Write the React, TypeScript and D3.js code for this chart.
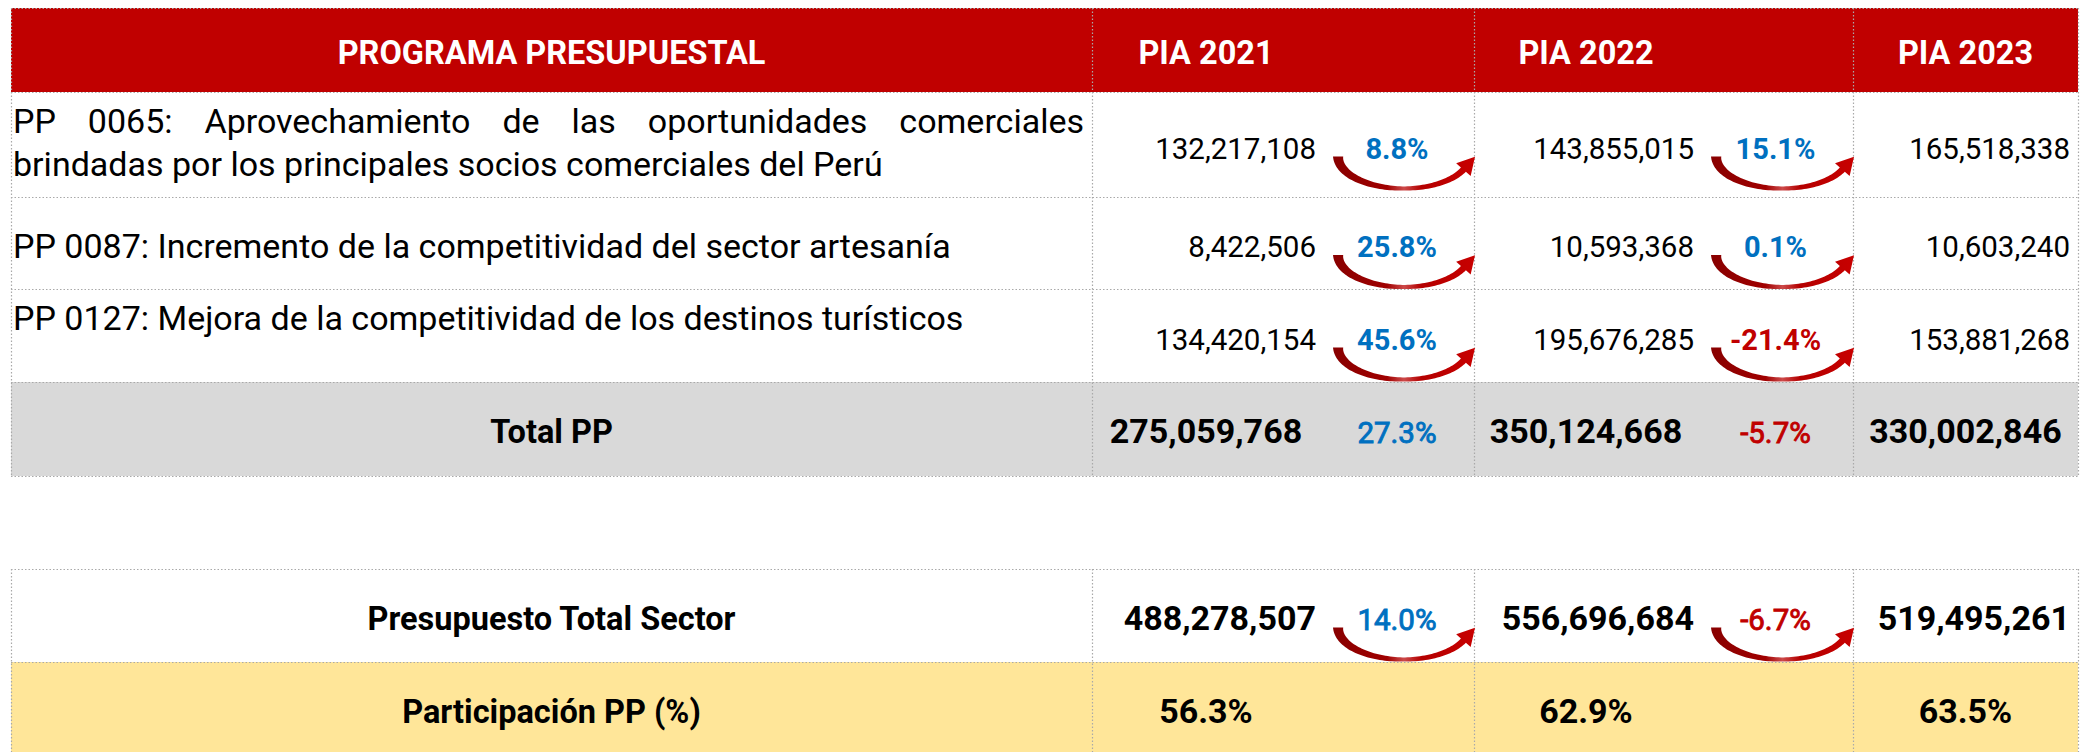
import React, { useEffect, useRef } from "react";
import * as d3 from "d3";

// ---------- data ----------
const headerLabel = "PROGRAMA PRESUPUESTAL";
const yearLabels = ["PIA 2021", "PIA 2022", "PIA 2023"];
const programs = [
  "PP 0065: Aprovechamiento de las oportunidades comerciales brindadas por los principales socios comerciales del Perú",
  "PP 0087: Incremento de la competitividad del sector artesanía",
  "PP 0127: Mejora de la competitividad de los destinos turísticos",
];
const pia2021 = [132217108, 8422506, 134420154];
const pia2022 = [143855015, 10593368, 195676285];
const pia2023 = [165518338, 10603240, 153881268];
const sectorTotal = [488278507, 556696684, 519495261];
const totalLabel = "Total PP";
const sectorLabel = "Presupuesto Total Sector";
const shareLabel = "Participación PP (%)";

// ---------- layout ----------
const W = 2092;
const H = 752;
const colEdges = [11, 1092, 1474, 1853, 2078];
const subSplit = [1320, 1698];
const topRowEdges = [8, 92, 197, 289, 382, 476];
const bottomRowEdges = [569, 662, 752];
const labelVAlign = ["top", "middle", "top"];
const FONT = "Roboto, 'Noto Sans', 'DejaVu Sans', sans-serif";

const RED = "#c00000";
const BLUE = "#0070c0";

export default function App() {
  const ref = useRef<SVGSVGElement>(null);

  useEffect(() => {
    document.body.style.margin = "0";
    const svg = d3.select(ref.current);
    svg.selectAll("*").remove();

    const locale = d3.formatLocale({
      decimal: ".",
      thousands: ",",
      grouping: [3],
      currency: ["$", ""],
      minus: "-",
    });
    const fmtNum = locale.format(",");
    const fmtPct = locale.format(".1%");

    const byYear = [pia2021, pia2022, pia2023];
    const totals = byYear.map((arr) => d3.sum(arr));
    const shares = totals.map((t, i) => t / sectorTotal[i]);
    const growth = (vals: number[]) => [vals[1] / vals[0] - 1, vals[2] / vals[1] - 1];

    // scales
    const rowKeysTop = ["header", "p0", "p1", "p2", "total"];
    const rowKeysBottom = ["sector", "share"];
    const rowTop = d3
      .scaleOrdinal<string, number>()
      .domain([...rowKeysTop, ...rowKeysBottom])
      .range([...topRowEdges.slice(0, 5), ...bottomRowEdges.slice(0, 2)]);
    const rowBottom = d3
      .scaleOrdinal<string, number>()
      .domain([...rowKeysTop, ...rowKeysBottom])
      .range([...topRowEdges.slice(1), ...bottomRowEdges.slice(1)]);
    const rowMid = (k: string) => (rowTop(k) + rowBottom(k)) / 2;
    const baseline = (k: string) => rowMid(k) + 14;

    const colLeft = d3.scaleOrdinal<string, number>().domain(yearLabels).range(colEdges.slice(1, 4));
    const colRight = d3.scaleOrdinal<string, number>().domain(yearLabels).range(colEdges.slice(2, 5));
    const numRight = (y: string, i: number) => (i < 2 ? subSplit[i] : colRight(y));
    const numCenter = (y: string, i: number) => (colLeft(y) + numRight(y, i)) / 2;
    const pctCenter = (y: string, i: number) => (subSplit[i] + colRight(y)) / 2;

    const x0 = colEdges[0];
    const x1 = colEdges[colEdges.length - 1];

    // defs
    const defs = svg.append("defs");
    const grad = defs
      .append("linearGradient")
      .attr("id", "arrowGrad")
      .attr("x1", "0")
      .attr("x2", "1")
      .attr("y1", "0")
      .attr("y2", "0");
    [
      [0, "#880000"],
      [0.38, "#a00000"],
      [0.5, "#cc4a4a"],
      [0.62, "#b40000"],
      [1, "#c80000"],
    ].forEach(([o, c]) => grad.append("stop").attr("offset", o as number).attr("stop-color", c as string));

    // fills
    const fillRow = (k: string, color: string) =>
      svg
        .append("rect")
        .attr("x", x0)
        .attr("y", rowTop(k))
        .attr("width", x1 - x0)
        .attr("height", rowBottom(k) - rowTop(k))
        .attr("fill", color);
    fillRow("header", RED);
    fillRow("total", "#d9d9d9");
    fillRow("share", "#ffe699");

    // grid
    const grid = svg
      .append("g")
      .attr("stroke", "#a9a9a9")
      .attr("stroke-width", 1.2)
      .attr("stroke-dasharray", "1.5 2")
      .attr("fill", "none");
    const hLines = [...topRowEdges, ...bottomRowEdges.slice(0, 2)];
    hLines.forEach((y) => {
      grid.append("line").attr("x1", x0).attr("x2", x1).attr("y1", y + 0.5).attr("y2", y + 0.5);
    });
    colEdges.forEach((x) => {
      grid
        .append("line")
        .attr("x1", x + 0.5)
        .attr("x2", x + 0.5)
        .attr("y1", topRowEdges[0])
        .attr("y2", topRowEdges[topRowEdges.length - 1]);
      grid
        .append("line")
        .attr("x1", x + 0.5)
        .attr("x2", x + 0.5)
        .attr("y1", bottomRowEdges[0])
        .attr("y2", bottomRowEdges[bottomRowEdges.length - 1]);
    });

    const text = (
      x: number,
      y: number,
      s: string,
      o: { size: number; weight?: number; fill?: string; anchor?: string; stroke?: number }
    ) => {
      const t = svg
        .append("text")
        .attr("x", x)
        .attr("y", y)
        .attr("font-family", FONT)
        .attr("font-size", o.size)
        .attr("font-weight", o.weight ?? 400)
        .attr("fill", o.fill ?? "#000")
        .attr("text-anchor", o.anchor ?? "start")
        .text(s);
      if (o.stroke) t.attr("stroke", o.fill ?? "#000").attr("stroke-width", o.stroke);
      return t;
    };

    // header
    const labelCenter = (colEdges[0] + colEdges[1]) / 2;
    text(labelCenter, baseline("header"), headerLabel, { size: 32.5, weight: 700, fill: "#fff", anchor: "middle" });
    yearLabels.forEach((y, i) =>
      text(numCenter(y, i), baseline("header"), y, { size: 32.5, weight: 700, fill: "#fff", anchor: "middle" })
    );

    // curved growth arrow: half-ellipse centerline with tapering width + head
    const arrow = (ax0: number, ax1: number, ay0: number, depth: number) => {
      const tailW = 10;
      const midW = 4;
      const endW = 6.5;
      const rx = 64;
      const ry = depth - midW / 2;
      const thetaEnd = 0.42;
      const N = 70;
      const left: [number, number][] = [];
      const right: [number, number][] = [];
      const P = (th: number): [number, number] => [rx * Math.cos(th), ry * Math.sin(th)];
      const T = (th: number): [number, number] => {
        const tx = rx * Math.sin(th);
        const ty = -ry * Math.cos(th);
        const l = Math.hypot(tx, ty) || 1;
        return [tx / l, ty / l];
      };
      for (let s = 0; s <= N; s++) {
        const f = s / N;
        const th = Math.PI + (thetaEnd - Math.PI) * f;
        const [px, py] = P(th);
        const [tx, ty] = T(th);
        const nx = -ty;
        const ny = tx;
        const fm = (Math.PI - th) / (Math.PI / 2);
        const w =
          th > Math.PI / 2
            ? tailW + (midW - tailW) * Math.pow(Math.min(1, fm), 0.85)
            : midW + (endW - midW) * ((Math.PI / 2 - th) / (Math.PI / 2 - thetaEnd));
        left.push([px + (nx * w) / 2, py + (ny * w) / 2]);
        right.push([px - (nx * w) / 2, py - (ny * w) / 2]);
      }
      const end = P(thetaEnd);
      const [ux, uy] = T(thetaEnd);
      const nx = -uy;
      const ny = ux;
      const headLen = 17;
      const headHalf = 9.5;
      const tip: [number, number] = [end[0] + ux * headLen, end[1] + uy * headLen];
      const pts: [number, number][] = [
        ...left,
        [end[0] + nx * headHalf, end[1] + ny * headHalf],
        tip,
        [end[0] - nx * headHalf, end[1] - ny * headHalf],
        ...right.reverse(),
      ];
      const xs = d3.extent(pts, (p) => p[0]) as [number, number];
      const sx = d3.scaleLinear().domain([xs[0], tip[0]]).range([ax0, ax1]);
      const line = d3
        .line<[number, number]>()
        .x((p) => sx(p[0]))
        .y((p) => p[1] + ay0)
        .curve(d3.curveLinearClosed);
      svg.append("path").attr("d", line(pts) as string).attr("fill", "url(#arrowGrad)");
    };

    const pctText = (k: string, vals: number[], size: number, weight: number, stroke?: number) => {
      const g = growth(vals);
      g.forEach((v, i) => {
        const y = yearLabels[i];
        text(pctCenter(y, i), baseline(k), fmtPct(v), {
          size,
          weight,
          fill: v < 0 ? RED : BLUE,
          anchor: "middle",
          stroke,
        });
      });
    };
    const arrowsFor = (k: string) => {
      [0, 1].forEach((i) => {
        const y = yearLabels[i];
        arrow(subSplit[i] + 13, colRight(y) + 1, baseline(k) - 2, 34);
      });
    };

    // program rows: labels with wrap + justify
    const labelLeft = colEdges[0] + 2;
    const labelWidth = colEdges[1] - colEdges[0] - 10;
    const labelSize = 34;
    const lineH = 43;
    const measure = (s: string) => {
      const t = text(-1000, -1000, s, { size: labelSize });
      const w = (t.node() as SVGTextElement).getComputedTextLength();
      t.remove();
      return w;
    };
    const spaceW = measure("a b") - measure("ab");

    programs.forEach((label, r) => {
      const k = "p" + r;
      const words = label.split(" ");
      const widths = words.map(measure);
      const lines: number[][] = [];
      let cur: number[] = [];
      let curW = 0;
      words.forEach((_, wi) => {
        const add = cur.length ? spaceW + widths[wi] : widths[wi];
        if (cur.length && curW + add > labelWidth) {
          lines.push(cur);
          cur = [wi];
          curW = widths[wi];
        } else {
          cur.push(wi);
          curW += add;
        }
      });
      if (cur.length) lines.push(cur);
      const firstBase =
        labelVAlign[r] === "top"
          ? rowTop(k) + 41
          : rowMid(k) + 15 - ((lines.length - 1) * lineH) / 2;
      lines.forEach((ln, li) => {
        const yb = firstBase + li * lineH;
        const last = li === lines.length - 1;
        const sumW = d3.sum(ln, (wi) => widths[wi]);
        const gap = !last && ln.length > 1 ? (labelWidth - sumW) / (ln.length - 1) : spaceW;
        let xx = labelLeft;
        ln.forEach((wi) => {
          text(xx, yb, words[wi], { size: labelSize });
          xx += widths[wi] + gap;
        });
      });

      const vals = byYear.map((arr) => arr[r]);
      vals.forEach((v, i) => {
        const y = yearLabels[i];
        text(numRight(y, i) - (i < 2 ? 4 : 8), baseline(k), fmtNum(v), { size: 29.5, anchor: "end" });
      });
      pctText(k, vals, 29, 700);
      arrowsFor(k);
    });

    // total row
    text(labelCenter, baseline("total"), totalLabel, { size: 32.5, weight: 700, anchor: "middle" });
    totals.forEach((v, i) => {
      const y = yearLabels[i];
      text(numCenter(y, i), baseline("total"), fmtNum(v), { size: 34, weight: 700, anchor: "middle" });
    });
    pctText("total", totals, 29.5, 400, 0.9);

    // sector row
    text(labelCenter, baseline("sector"), sectorLabel, { size: 32.5, weight: 700, anchor: "middle" });
    sectorTotal.forEach((v, i) => {
      const y = yearLabels[i];
      text(numRight(y, i) - (i < 2 ? 4 : 8), baseline("sector"), fmtNum(v), {
        size: 34,
        weight: 700,
        anchor: "end",
      });
    });
    pctText("sector", sectorTotal, 29.5, 400, 0.9);
    arrowsFor("sector");

    // share row
    text(labelCenter, baseline("share") + 2, shareLabel, { size: 32.5, weight: 700, anchor: "middle" });
    shares.forEach((v, i) => {
      const y = yearLabels[i];
      text(numCenter(y, i), baseline("share") + 2, fmtPct(v), { size: 34, weight: 700, anchor: "middle" });
    });
  }, []);

  return <svg ref={ref} width={W} height={H} style={{ display: "block" }} />;
}
